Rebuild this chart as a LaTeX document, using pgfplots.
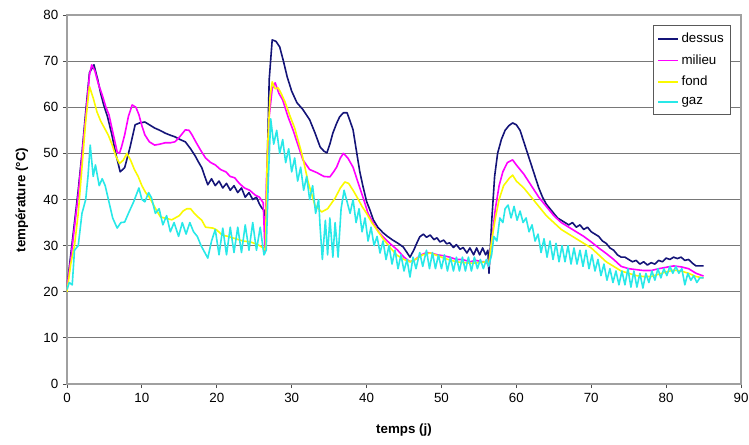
\documentclass[border=0pt]{standalone}
\usepackage{fontspec}
\setmainfont{Liberation Sans}
\usepackage{pgfplots}
\pgfplotsset{compat=1.18}
\definecolor{cdessus}{RGB}{20,20,120}
\definecolor{cmilieu}{RGB}{255,0,255}
\definecolor{cfond}{RGB}{250,250,0}
\definecolor{cgaz}{RGB}{40,232,232}
\definecolor{cgrid}{RGB}{120,120,120}
\definecolor{cbox}{RGB}{160,160,160}
\begin{document}
\begin{tikzpicture}
\path[use as bounding box] (-50.25pt,-45pt) rectangle (511.5pt,288pt);
\begin{axis}[
  scale only axis, width=505.5pt, height=276.75pt,
  xmin=0, xmax=90, ymin=0, ymax=80,
  xtick={0,10,...,90}, ytick={0,10,...,80},
  ymajorgrids, grid style={color=cgrid, line width=0.9pt},
  axis line style={color=cbox, line width=0.9pt},
  axis on top=false,
  tick align=outside, xtick pos=left, ytick pos=left,
  major tick length=3pt, tick style={color=gray!60!black, line width=0.7pt},
  /pgf/number format/assume math mode=true,
  tick label style={font=\fontsize{10}{12}\selectfont},
  xlabel={\textbf{temps (j)}}, ylabel={\textbf{température (°C)}},
  label style={font=\fontsize{10}{12}\selectfont},
  xlabel style={at={(axis description cs:0.5,-0.125)}, anchor=center},
  ylabel style={at={(axis description cs:-0.0668,0.4986)}, anchor=center},
  legend style={at={(axis description cs:0.985,0.972)}, anchor=north east,
    draw=gray!70!black, line width=0.6pt, font=\fontsize{10}{12}\selectfont,
    row sep=3.4pt, inner xsep=3pt, inner ysep=3.5pt, cells={anchor=west}},
  legend image code/.code={\draw[#1, line width=1.3pt] (-2pt,0pt) -- (13pt,0pt);},
  every axis plot/.append style={line width=1.2pt, mark=none, line join=round},
]
\addplot[cdessus] coordinates {
(0,21)(0.5,28)(1,35)(1.5,42)(2,50)(2.5,59)(3,67.5)(3.6,69.2)(4.1,66)(4.5,63)(4.9,60.5)(5.4,58)(6,54)(6.5,50)(7.1,46)(7.7,46.9)(8.4,51.2)(9.1,56.2)(9.7,56.6)(10.4,56.8)(11,56.2)(11.7,55.5)(12.4,55)(13.1,54.4)(13.7,54)(14.4,53.6)(15.1,53)(15.8,52.5)(16.5,51)(17.1,49.5)(17.6,48)(18,46.9)(18.4,45)(18.8,43.2)(19.3,44.5)(19.8,43)(20.3,44)(20.8,42.5)(21.3,43.5)(21.8,42)(22.3,43)(22.8,41.5)(23.3,42.5)(23.8,40.5)(24.3,41.5)(24.8,40)(25.3,40.5)(25.7,39)(26,38.2)(26.4,37.5)(26.5,29)(26.7,45)(27,66)(27.4,74.6)(27.9,74.3)(28.4,73.1)(28.9,70)(29.4,66.6)(30,63.5)(30.7,61)(31.5,59.5)(32.4,57.3)(33.1,54.5)(33.8,51.4)(34.3,50.5)(34.7,50.1)(35.1,52)(35.5,54.4)(36,56.5)(36.4,57.9)(36.9,58.8)(37.4,58.8)(37.8,57)(38.2,55.1)(38.7,50)(39.1,46)(39.5,43)(40,39.6)(40.5,37.5)(40.9,35.6)(41.5,34)(42.2,32.8)(42.8,32)(43.5,31.2)(44.2,30.5)(44.9,29.7)(45.4,28.5)(45.8,27.5)(46.3,29)(46.7,30.5)(47.1,31.9)(47.6,32.5)(48,31.8)(48.5,32.3)(49,31.3)(49.4,31.7)(49.8,30.8)(50.3,31.2)(50.7,30.4)(51.1,30.6)(51.6,29.6)(52,30.2)(52.5,29.2)(52.9,29.6)(53.4,28.4)(53.8,29.5)(54.3,28)(54.7,29.5)(55.1,28)(55.5,29.5)(55.9,28)(56.2,29)(56.35,24)(56.7,35)(57.1,45)(57.5,50)(58,53)(58.5,55)(59,56)(59.5,56.6)(60,56.2)(60.5,55)(61,52.5)(61.5,50)(62,47.5)(62.5,45)(63,42.5)(63.5,40.5)(64,39)(64.5,38)(65,37)(65.5,36)(66,35.5)(66.5,35)(67,34.5)(67.5,35)(68,34)(68.5,34.5)(69,33.5)(69.5,34)(70,33)(70.5,32.5)(71,32)(71.5,31)(72,30.5)(72.5,29.5)(73,29)(73.5,28)(74,27.5)(74.5,27.5)(75,27)(75.5,26.5)(76,26.8)(76.5,26)(77,26.5)(77.5,25.8)(78,26.3)(78.5,26)(79,26.8)(79.5,26.5)(80,27.3)(80.5,27)(81,27.5)(81.5,27.2)(82,27.5)(82.5,26.8)(83,27)(83.5,26.2)(84,25.6)(85,25.6)
};
\addlegendentry{dessus}
\addplot[cmilieu] coordinates {
(0,21)(0.5,27)(1,34)(1.5,41)(2,49.5)(2.5,58)(3,67)(3.3,69.2)(3.7,68)(4.2,65)(4.7,62.7)(5.2,60)(5.6,58.4)(6.2,54)(6.7,50.3)(7,50)(7.3,51.5)(7.7,54)(8.2,58)(8.7,60.5)(9.2,60)(9.6,58.4)(10,56)(10.4,54)(11,52.5)(11.7,51.8)(12.4,52)(13.1,52.3)(13.8,52.3)(14.4,52.5)(15,53.5)(15.8,55.1)(16.3,55)(16.7,54)(17.2,52.5)(17.8,50.8)(18.5,49)(19.2,48)(19.8,47.5)(20.5,46.5)(21.2,46)(21.8,45)(22.4,44.7)(23,43.5)(23.7,42.5)(24.4,42)(25.1,41)(25.7,40.5)(26.2,39.3)(26.45,28.5)(26.65,45)(27,58)(27.4,64)(27.8,65.3)(28.3,63)(28.8,61.6)(29.5,58)(30.2,55)(30.8,52)(31.5,48.6)(32.4,46.5)(33.4,45.8)(34.3,45)(35.1,44.9)(35.6,46)(36,47)(36.5,49)(36.9,50)(37.5,49)(38.2,47)(38.8,44)(39.5,40.6)(40.2,37)(40.9,34.9)(41.6,33)(42.2,31.9)(43.1,30.5)(44.1,29.1)(45,27.5)(45.8,26.5)(46.5,27)(47.3,28)(48,28.5)(48.5,28.4)(49.5,28)(50.3,27.8)(51.1,27.5)(52,27)(52.8,27)(53.8,26.5)(54.6,26.8)(55.4,26.5)(56,26.5)(56.3,25.5)(56.7,31)(57.2,38)(57.7,43)(58.2,46)(58.8,48)(59.5,48.6)(60,47.5)(61,45.5)(62,43)(63,40.5)(64,38.5)(65,36.5)(66,35)(67,34)(68,33)(69,32)(70,30.8)(71,29.5)(72,28.3)(73,27)(74,25.5)(75,25)(76,24.8)(77,24.6)(78,24.6)(79,25)(80,25.3)(81,25.6)(82,25.4)(83,25)(84,24)(85,23.4)
};
\addlegendentry{milieu}
\addplot[cfond] coordinates {
(0,20)(0.5,26)(1,30)(1.5,37)(2,47)(2.5,57)(3,64.5)(3.5,62)(4,59)(4.5,57)(5,55.5)(5.5,54)(6,52)(6.5,49.5)(7,47.8)(7.5,48.5)(8,50)(8.5,48.5)(9,46.5)(9.5,45)(10,43)(10.5,41.5)(11,40.5)(11.5,39)(12,37.5)(12.5,36.2)(13,36)(14,35.6)(15,36.5)(15.5,37.5)(16,38)(16.5,38)(17,37)(17.5,36.2)(18,35.5)(18.5,34)(19.5,33.8)(20,33.4)(20.7,32.3)(21.5,32)(22.5,31.5)(23.5,31)(24.5,30.8)(25.5,30.2)(26.2,29.5)(26.5,29)(26.75,50)(27.1,62)(27.4,65.5)(27.8,64)(28.2,64.2)(28.6,63)(29.1,61.2)(29.8,58)(30.4,55.5)(31.4,49.7)(32.2,43.8)(33.1,38.8)(34,37.3)(34.8,38)(35.8,40.3)(36.5,42.5)(37.1,43.8)(37.6,43.5)(38.2,42)(38.7,40.6)(39.4,38.5)(40,37)(40.7,35)(41.4,33.4)(42.2,31.5)(43.1,29.7)(44,28)(45,27)(45.8,26.5)(46.5,27)(47.5,28)(48.5,28.4)(49.5,27.8)(50.3,27.3)(51.1,26.9)(52,26.5)(53,26.3)(54,26.2)(55,26.3)(56,26.5)(56.3,25.8)(56.7,31)(57.2,36)(57.7,40)(58.3,43)(59,44.5)(59.5,45.3)(60,44)(61,42.5)(62,40.5)(63,38.5)(64,36.5)(65,35)(66,33.5)(67,32.5)(68,31.5)(69,30.5)(70,29.5)(71,28)(72,26.5)(73,25.5)(74,24.5)(75,24)(76,23.5)(77,23.3)(78,23.3)(79,23.8)(80,24.3)(81,24.7)(82,24.5)(83,24)(84,23.3)(85,23)
};
\addlegendentry{fond}
\addplot[cgaz] coordinates {
(0,20.5)(0.3,22)(0.7,21.5)(1,29)(1.5,30)(2,37)(2.5,40)(2.8,45)(3.1,51.8)(3.5,45)(3.8,47.5)(4.3,43)(4.7,44.5)(5.1,43)(5.6,39.5)(6.1,36)(6.7,33.8)(7.2,35)(7.7,35.1)(8.2,37)(8.9,39.5)(9.6,42.5)(10,40)(10.4,39.5)(10.9,41.5)(11.3,40.3)(11.8,37)(12.3,38)(12.8,34.5)(13.3,36.5)(13.8,33)(14.3,35)(14.9,32)(15.4,35)(15.9,32.5)(16.4,35)(16.9,33)(17.4,32)(17.9,30)(18.4,28.5)(18.8,27.3)(19.3,31)(19.8,33.5)(20.3,28)(20.8,33.8)(21.3,28)(21.8,34)(22.3,28.5)(22.8,34)(23.3,28.5)(23.8,34.5)(24.3,29)(24.8,35)(25.3,29)(25.8,34)(26.3,28)(26.6,29)(26.9,45)(27.2,57.5)(27.6,52)(28,55)(28.4,50)(28.8,53)(29.2,48)(29.6,51)(30,46)(30.4,49)(30.8,44)(31.2,47)(31.6,42)(32,45)(32.4,40)(32.8,43)(33.2,37)(33.6,40)(33.8,34)(34.1,27)(34.5,35.5)(34.8,28)(35.1,36)(35.5,27.5)(35.8,35)(36.2,27.5)(36.6,38)(37,42)(37.4,39.5)(37.8,37)(38.2,40)(38.6,35)(39,38)(39.4,33)(39.8,36)(40.2,31)(40.6,34)(41,30)(41.4,32)(41.8,28.4)(42.2,31)(42.6,27)(43,30)(43.4,26)(43.8,29)(44.2,25)(44.6,28)(45,24.5)(45.4,27)(45.8,23.2)(46.2,27.5)(46.6,25)(47.1,28.5)(47.5,25.5)(48,29)(48.4,25)(48.8,28.5)(49.2,25)(49.6,28)(50,25)(50.4,28)(50.8,24.5)(51.2,27.5)(51.6,24.5)(52,27.5)(52.4,24.5)(52.8,27.5)(53.2,24.5)(53.6,27.5)(54,24.5)(54.4,27.5)(54.8,25)(55.2,27)(55.6,25)(56,27)(56.3,25.5)(56.7,28)(57,32)(57.4,31)(57.8,36)(58.2,35)(58.5,38)(58.9,38.8)(59.3,36)(59.7,38.5)(60.1,35.5)(60.5,37.5)(60.9,35)(61.3,36)(61.7,33)(62.1,34.5)(62.5,31)(62.9,32.5)(63.3,28.5)(63.7,31.5)(64.1,27.5)(64.5,31)(64.9,27)(65.3,30.5)(65.7,26.5)(66.1,30)(66.5,26.5)(66.9,30)(67.3,26)(67.7,29.5)(68.1,26)(68.5,29)(68.9,25.5)(69.3,29)(69.7,25)(70.1,28)(70.5,24.5)(70.9,27)(71.3,23.5)(71.7,26)(72.1,22.5)(72.5,25)(72.9,22)(73.3,24.5)(73.7,21.5)(74.1,24.5)(74.5,21.5)(74.9,25)(75.3,21)(75.7,24.5)(76.1,21)(76.5,24)(76.9,20.8)(77.3,24)(77.7,22)(78.1,24.5)(78.5,22.5)(78.9,25)(79.3,23)(79.7,25)(80.1,23.5)(80.5,25.5)(80.9,24)(81.3,25.5)(81.7,24)(82.1,25)(82.5,21.5)(82.9,24)(83.3,22.5)(83.7,23.5)(84.1,22)(84.5,23)(85,23)
};
\addlegendentry{gaz}
\end{axis}
\end{tikzpicture}
\end{document}
